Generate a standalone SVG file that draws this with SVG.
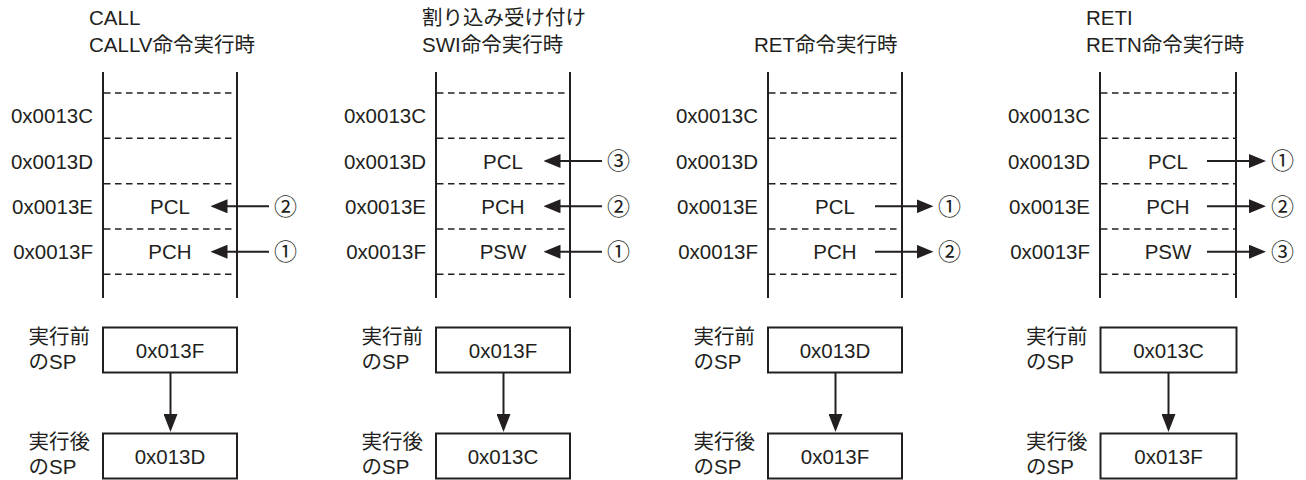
<svg xmlns="http://www.w3.org/2000/svg" width="1306" height="480" viewBox="0 0 1306 480">
<style>
text{font-family:"Liberation Sans",Arial,"Noto Sans CJK JP",sans-serif;font-size:20.5px;fill:#231f20}
.c{font-family:"Noto Sans CJK JP",sans-serif;font-size:23px}
.m{text-anchor:middle}
.e{text-anchor:end}
.v{stroke:#231f20;stroke-width:2;fill:none}
.d{stroke:#231f20;stroke-width:1.5;stroke-dasharray:6.5 4.5;fill:none}
.b{stroke:#231f20;stroke-width:2;fill:#fff}
.a{stroke:#231f20;stroke-width:2;fill:none}
</style>
<defs>
<marker id="ah" markerUnits="userSpaceOnUse" markerWidth="17" markerHeight="14" refX="7" refY="7" orient="auto" viewBox="0 0 17 14"><path d="M0,0 L17,7 L0,14 z" fill="#231f20"/></marker>
<marker id="av" markerUnits="userSpaceOnUse" markerWidth="18" markerHeight="14" refX="8" refY="7" orient="auto" viewBox="0 0 18 14"><path d="M0,0 L18,7 L0,14 z" fill="#231f20"/></marker>
</defs>

<g id="panel-call">
<text x="89" y="25">CALL</text>
<text x="89" y="52">CALLV命令実行時</text>
<line class="v" x1="103" y1="72" x2="103" y2="298"/>
<line class="v" x1="237" y1="72" x2="237" y2="298"/>
<line class="d" x1="104" y1="93" x2="236" y2="93"/>
<line class="d" x1="104" y1="138.3" x2="236" y2="138.3"/>
<line class="d" x1="104" y1="183.7" x2="236" y2="183.7"/>
<line class="d" x1="104" y1="229" x2="236" y2="229"/>
<line class="d" x1="104" y1="274.3" x2="236" y2="274.3"/>
<text class="e" x="93" y="123.2">0x0013C</text>
<text class="e" x="93" y="168.5">0x0013D</text>
<text class="e" x="93" y="213.8">0x0013E</text>
<text class="e" x="93" y="259.2">0x0013F</text>
<text class="m" x="170" y="213.8">PCL</text>
<text class="m" x="170" y="259.2">PCH</text>
<text class="c" x="274" y="214.5">②</text>
<text class="c" x="274" y="259.9">①</text>
</g>
<g id="panel-call-sp">
<text x="28.5" y="343.5">実行前</text>
<text x="28.5" y="368.5">のSP</text>
<rect class="b" x="103" y="327.5" width="134" height="45"/>
<text class="m" x="170" y="358">0x013F</text>
<text x="28.5" y="448.5">実行後</text>
<text x="28.5" y="473.5">のSP</text>
<rect class="b" x="103" y="433.5" width="134" height="45"/>
<text class="m" x="170" y="464">0x013D</text>
</g>

<g id="panel-swi">
<text x="422" y="25">割り込み受け付け</text>
<text x="422" y="52">SWI命令実行時</text>
<line class="v" x1="436" y1="72" x2="436" y2="298"/>
<line class="v" x1="570" y1="72" x2="570" y2="298"/>
<line class="d" x1="437" y1="93" x2="569" y2="93"/>
<line class="d" x1="437" y1="138.3" x2="569" y2="138.3"/>
<line class="d" x1="437" y1="183.7" x2="569" y2="183.7"/>
<line class="d" x1="437" y1="229" x2="569" y2="229"/>
<line class="d" x1="437" y1="274.3" x2="569" y2="274.3"/>
<text class="e" x="426" y="123.2">0x0013C</text>
<text class="e" x="426" y="168.5">0x0013D</text>
<text class="e" x="426" y="213.8">0x0013E</text>
<text class="e" x="426" y="259.2">0x0013F</text>
<text class="m" x="503" y="168.5">PCL</text>
<text class="m" x="503" y="213.8">PCH</text>
<text class="m" x="503" y="259.2">PSW</text>
<text class="c" x="607" y="169.2">③</text>
<text class="c" x="607" y="214.5">②</text>
<text class="c" x="607" y="259.9">①</text>
</g>
<g id="panel-swi-sp">
<text x="361.5" y="343.5">実行前</text>
<text x="361.5" y="368.5">のSP</text>
<rect class="b" x="436" y="327.5" width="134" height="45"/>
<text class="m" x="503" y="358">0x013F</text>
<text x="361.5" y="448.5">実行後</text>
<text x="361.5" y="473.5">のSP</text>
<rect class="b" x="436" y="433.5" width="134" height="45"/>
<text class="m" x="503" y="464">0x013C</text>
</g>

<g id="panel-ret">
<text x="754" y="52">RET命令実行時</text>
<line class="v" x1="768" y1="72" x2="768" y2="298"/>
<line class="v" x1="902" y1="72" x2="902" y2="298"/>
<line class="d" x1="769" y1="93" x2="901" y2="93"/>
<line class="d" x1="769" y1="138.3" x2="901" y2="138.3"/>
<line class="d" x1="769" y1="183.7" x2="901" y2="183.7"/>
<line class="d" x1="769" y1="229" x2="901" y2="229"/>
<line class="d" x1="769" y1="274.3" x2="901" y2="274.3"/>
<text class="e" x="758" y="123.2">0x0013C</text>
<text class="e" x="758" y="168.5">0x0013D</text>
<text class="e" x="758" y="213.8">0x0013E</text>
<text class="e" x="758" y="259.2">0x0013F</text>
<text class="m" x="835" y="213.8">PCL</text>
<text class="m" x="835" y="259.2">PCH</text>
<text class="c" x="938" y="214.5">①</text>
<text class="c" x="938" y="259.9">②</text>
</g>
<g id="panel-ret-sp">
<text x="693.5" y="343.5">実行前</text>
<text x="693.5" y="368.5">のSP</text>
<rect class="b" x="768" y="327.5" width="134" height="45"/>
<text class="m" x="835" y="358">0x013D</text>
<text x="693.5" y="448.5">実行後</text>
<text x="693.5" y="473.5">のSP</text>
<rect class="b" x="768" y="433.5" width="134" height="45"/>
<text class="m" x="835" y="464">0x013F</text>
</g>

<g id="panel-reti">
<text x="1086" y="25">RETI</text>
<text x="1086" y="52">RETN命令実行時</text>
<line class="v" x1="1100" y1="72" x2="1100" y2="298"/>
<line class="v" x1="1236" y1="72" x2="1236" y2="298"/>
<line class="d" x1="1101" y1="93" x2="1235" y2="93"/>
<line class="d" x1="1101" y1="138.3" x2="1235" y2="138.3"/>
<line class="d" x1="1101" y1="183.7" x2="1235" y2="183.7"/>
<line class="d" x1="1101" y1="229" x2="1235" y2="229"/>
<line class="d" x1="1101" y1="274.3" x2="1235" y2="274.3"/>
<text class="e" x="1090" y="123.2">0x0013C</text>
<text class="e" x="1090" y="168.5">0x0013D</text>
<text class="e" x="1090" y="213.8">0x0013E</text>
<text class="e" x="1090" y="259.2">0x0013F</text>
<text class="m" x="1168" y="168.5">PCL</text>
<text class="m" x="1168" y="213.8">PCH</text>
<text class="m" x="1168" y="259.2">PSW</text>
<text class="c" x="1271" y="169.2">①</text>
<text class="c" x="1271" y="214.5">②</text>
<text class="c" x="1271" y="259.9">③</text>
</g>
<g id="panel-reti-sp">
<text x="1026" y="343.5">実行前</text>
<text x="1026" y="368.5">のSP</text>
<rect class="b" x="1100.5" y="327.5" width="136" height="45"/>
<text class="m" x="1168.5" y="358">0x013C</text>
<text x="1026" y="448.5">実行後</text>
<text x="1026" y="473.5">のSP</text>
<rect class="b" x="1100.5" y="433.5" width="136" height="45"/>
<text class="m" x="1168.5" y="464">0x013F</text>
</g>

<g id="connectors">
<line class="a" x1="269" y1="206.3" x2="220.5" y2="206.3" marker-end="url(#ah)"/>
<line class="a" x1="269" y1="251.7" x2="220.5" y2="251.7" marker-end="url(#ah)"/>
<line class="a" x1="602" y1="161" x2="553.5" y2="161" marker-end="url(#ah)"/>
<line class="a" x1="602" y1="206.3" x2="553.5" y2="206.3" marker-end="url(#ah)"/>
<line class="a" x1="602" y1="251.7" x2="553.5" y2="251.7" marker-end="url(#ah)"/>
<line class="a" x1="875" y1="206.3" x2="923.5" y2="206.3" marker-end="url(#ah)"/>
<line class="a" x1="875" y1="251.7" x2="923.5" y2="251.7" marker-end="url(#ah)"/>
<line class="a" x1="1207" y1="161" x2="1256" y2="161" marker-end="url(#ah)"/>
<line class="a" x1="1207" y1="206.3" x2="1256" y2="206.3" marker-end="url(#ah)"/>
<line class="a" x1="1207" y1="251.7" x2="1256" y2="251.7" marker-end="url(#ah)"/>
<line class="a" x1="170.5" y1="372.5" x2="170.5" y2="422" marker-end="url(#av)"/>
<line class="a" x1="503.5" y1="372.5" x2="503.5" y2="422" marker-end="url(#av)"/>
<line class="a" x1="835.5" y1="372.5" x2="835.5" y2="422" marker-end="url(#av)"/>
<line class="a" x1="1168.5" y1="372.5" x2="1168.5" y2="422" marker-end="url(#av)"/>
</g>
</svg>
